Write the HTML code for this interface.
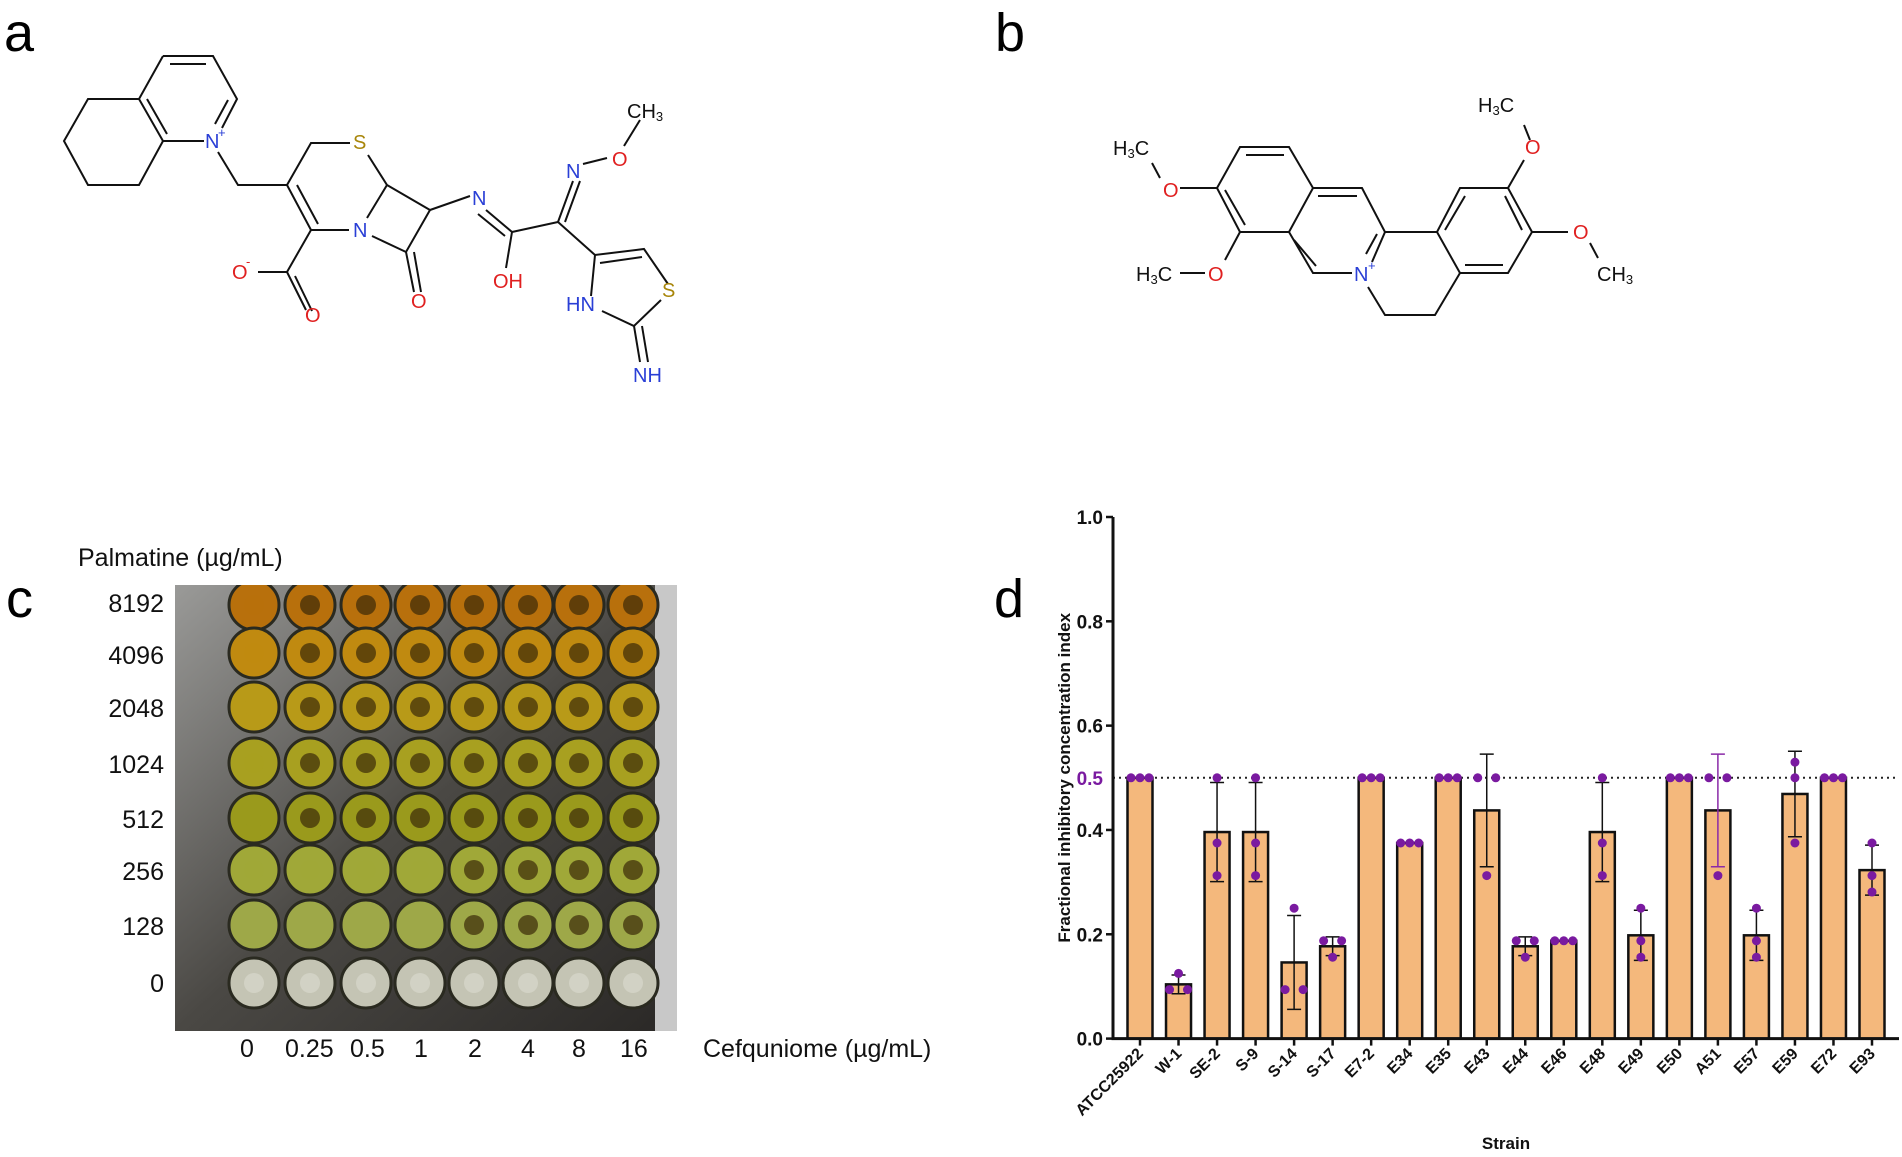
<!DOCTYPE html>
<html><head><meta charset="utf-8">
<style>
html,body{margin:0;padding:0;background:#fff;}
body{width:1902px;height:1157px;position:relative;overflow:hidden;font-family:"Liberation Sans",Arial,sans-serif;}
.pl{position:absolute;font-size:54px;line-height:1;color:#000;}
.t{position:absolute;font-size:25px;color:#111;white-space:nowrap;}
</style></head>
<body>
<div class="pl" style="left:4px;top:6px;">a</div>
<div class="pl" style="left:995px;top:6px;">b</div>
<div class="pl" style="left:6px;top:572px;">c</div>
<div class="pl" style="left:994px;top:572px;">d</div>

<svg width="1902" height="1157" style="position:absolute;left:0;top:0" font-family="Liberation Sans, sans-serif" font-size="19">
<g stroke="#111" stroke-width="2" fill="none">
<path d="M163 56 L213 56 L237 99 L222 128 M204 141 L163 141 L139 99 L163 56"/>
<path d="M170 64 L206 64 M228 100 L215 124 M147 99 L167 134"/>
<path d="M139 99 L88 99 L64 141 L88 185 L139 185 L163 141"/>
<path d="M218 152 L238 185 L287 185 L311 143 L350 143 M368 155 L387 185 L430 210 L406 252 L372 236 M349 230 L311 230 L287 185 M297 185 L318 224"/>
<path d="M387 185 L367 218 M311 230 L287 272 L258 272 M287 272 L306 310 M295 276 L312 311 M406 252 L414 292 M414 252 L421 292"/>
<path d="M430 210 L470 196 M486 210 L512 232 M478 214 L505 236 M512 232 L506 268 M512 232 L558 222 L573 181 M565 222 L580 181 M583 164 L607 158 M624 146 L640 120"/>
<path d="M558 222 L595 255 L644 249 L668 284 M600 263 L642 257 M661 300 L634 326 L602 311 M591 296 L595 255 M634 326 L640 362 M642 326 L648 362"/>
</g>
<g font-size="20">
<text x="205" y="148" fill="#2a3fd6">N</text><text x="218" y="137" fill="#2a3fd6" font-size="13">+</text>
<text x="353" y="149" fill="#a8860a">S</text>
<text x="353" y="237" fill="#2a3fd6">N</text>
<text x="232" y="279" fill="#e02020">O</text><text x="246" y="266" fill="#e02020" font-size="13">-</text>
<text x="305" y="322" fill="#e02020">O</text>
<text x="411" y="308" fill="#e02020">O</text>
<text x="472" y="205" fill="#2a3fd6">N</text>
<text x="493" y="288" fill="#e02020">OH</text>
<text x="566" y="178" fill="#2a3fd6">N</text>
<text x="612" y="166" fill="#e02020">O</text>
<text x="627" y="118" fill="#111">CH<tspan font-size="13" dy="3">3</tspan></text>
<text x="662" y="297" fill="#a8860a">S</text>
<text x="566" y="311" fill="#2a3fd6">HN</text>
<text x="633" y="382" fill="#2a3fd6">NH</text>
</g>
</svg>

<svg width="1902" height="1157" style="position:absolute;left:0;top:0" font-family="Liberation Sans, sans-serif">
<g stroke="#111" stroke-width="2" fill="none">
<path d="M1240 147 L1289 147 L1313 188 L1289 232 L1240 232 L1217 188 Z"/>
<path d="M1246 155 L1284 155 M1225 190 L1245 225"/>
<path d="M1313 188 L1362 188 L1385 232 L1372 262 M1352 273 L1313 273 L1289 232 M1318 196 L1357 196 M1294 240 L1316 266 M1377 234 L1366 254"/>
<path d="M1385 232 L1437 232 L1460 188 L1508 188 L1532 232 L1508 273 L1460 273 L1437 232 M1465 196 L1445 230 M1505 196 L1522 230 M1465 265 L1503 265"/>
<path d="M1368 287 L1385 315 L1435 315 L1460 273"/>
<path d="M1217 188 L1180 188 M1160 178 L1152 163 M1240 232 L1225 260 M1205 273 L1180 273 M1508 188 L1524 160 M1530 140 L1524 125 M1532 232 L1568 232 M1590 243 L1598 258"/>
</g>
<g font-size="20">
<text x="1163" y="197" fill="#e02020">O</text>
<text x="1113" y="155" fill="#111">H<tspan font-size="13" dy="3">3</tspan><tspan dy="-3">C</tspan></text>
<text x="1208" y="281" fill="#e02020">O</text>
<text x="1136" y="281" fill="#111">H<tspan font-size="13" dy="3">3</tspan><tspan dy="-3">C</tspan></text>
<text x="1354" y="281" fill="#2a3fd6">N</text><text x="1368" y="270" fill="#2a3fd6" font-size="13">+</text>
<text x="1525" y="154" fill="#e02020">O</text>
<text x="1478" y="112" fill="#111">H<tspan font-size="13" dy="3">3</tspan><tspan dy="-3">C</tspan></text>
<text x="1573" y="239" fill="#e02020">O</text>
<text x="1597" y="281" fill="#111">CH<tspan font-size="13" dy="3">3</tspan></text>
</g>
</svg>

<!-- Panel c -->
<div class="t" style="left:78px;top:544px;">Palmatine (µg/mL)</div>
<div>
<div class="t" style="right:1738px;top:590px;">8192</div>
<div class="t" style="right:1738px;top:642px;">4096</div>
<div class="t" style="right:1738px;top:695px;">2048</div>
<div class="t" style="right:1738px;top:751px;">1024</div>
<div class="t" style="right:1738px;top:806px;">512</div>
<div class="t" style="right:1738px;top:858px;">256</div>
<div class="t" style="right:1738px;top:913px;">128</div>
<div class="t" style="right:1738px;top:970px;">0</div>
</div>
<svg id="plate" width="502" height="446" style="position:absolute;left:175px;top:585px;">
<defs>
<linearGradient id="pbg" x1="0" y1="0" x2="1" y2="1"><stop offset="0" stop-color="#9a9a98"/><stop offset="0.5" stop-color="#4a4844"/><stop offset="1" stop-color="#2a2826"/></linearGradient>
</defs>
<rect width="502" height="446" fill="url(#pbg)"/>
<rect x="480" y="0" width="22" height="446" fill="#c8c8c8"/>
</svg>
<div>
<div class="t" style="left:240px;top:1035px;">0</div>
<div class="t" style="left:285px;top:1035px;">0.25</div>
<div class="t" style="left:350px;top:1035px;">0.5</div>
<div class="t" style="left:414px;top:1035px;">1</div>
<div class="t" style="left:468px;top:1035px;">2</div>
<div class="t" style="left:521px;top:1035px;">4</div>
<div class="t" style="left:572px;top:1035px;">8</div>
<div class="t" style="left:620px;top:1035px;">16</div>
</div>
<div class="t" style="left:703px;top:1035px;">Cefquniome (µg/mL)</div>

<!-- Panel d -->
<svg id="chart" width="1902" height="1157" style="position:absolute;left:0;top:0" font-family="Liberation Sans, sans-serif"></svg>

<script>
// plate
const rowColors = ['#b8700c','#c08a10','#b89a18','#a8a020','#9a9a1c','#a0a838','#9ea848','#c4c4b4'];
const rowCenters = [605,653,707,763,818,870,925,983];
const colCenters = [254,310,366,420,474,528,579,633];
const NS='http://www.w3.org/2000/svg';
const plate=document.getElementById('plate');
rowCenters.forEach((cy,ri)=>{
  colCenters.forEach((cx,ci)=>{
    const c=document.createElementNS(NS,'circle');
    
    
    c.setAttribute('cx',cx-175);c.setAttribute('cy',cy-585);c.setAttribute('r',25);
    c.setAttribute('fill',rowColors[ri]);c.setAttribute('stroke','#2a2a20');c.setAttribute('stroke-width','3');
    plate.appendChild(c);
    const d=document.createElementNS(NS,'circle');
    
    
    d.setAttribute('cx',cx-175);d.setAttribute('cy',cy-585);d.setAttribute('r',10);
    const dark = ri<5 ? (ci>0) : (ri<7 ? ci>=4 : false);
    d.setAttribute('fill', dark ? '#3a2a08' : (ri==7?'#d8d8cc':rowColors[ri]));
    d.setAttribute('opacity','0.7');
    plate.appendChild(d);
  });
});

// chart data
const strains=['ATCC25922','W-1','SE-2','S-9','S-14','S-17','E7-2','E34','E35','E43','E44','E46','E48','E49','E50','A51','E57','E59','E72','E93'];
const means=[0.5,0.104,0.396,0.396,0.146,0.177,0.5,0.375,0.5,0.4375,0.177,0.1875,0.396,0.198,0.5,0.4375,0.198,0.469,0.5,0.323];
const sds=[0,0.018,0.095,0.095,0.09,0.018,0,0,0,0.108,0.018,0,0.095,0.048,0,0.108,0.048,0.082,0,0.048];
const rep1=[0.5,0.125,0.5,0.5,0.25,0.1875,0.5,0.375,0.5,0.5,0.1875,0.1875,0.5,0.25,0.5,0.5,0.25,0.53,0.5,0.375];
const rep2=[0.5,0.094,0.375,0.375,0.094,0.1875,0.5,0.375,0.5,0.5,0.156,0.1875,0.375,0.1875,0.5,0.5,0.1875,0.5,0.5,0.3125];
const rep3=[0.5,0.094,0.3125,0.3125,0.094,0.156,0.5,0.375,0.5,0.3125,0.1875,0.1875,0.3125,0.156,0.5,0.3125,0.156,0.375,0.5,0.281];
const yTicks=[0,0.2,0.4,0.6,0.8,1.0];
const yTickLabels=['0.0','0.2','0.4','0.6','0.8','1.0'];
const refValue=0.5;

const svg=document.getElementById('chart');
const X0=1113, X1=1899, Y0=1038.6, YH=521.6;
const y=v=>Y0-YH*v;
const x=i=>1140+i*(1872-1140)/(strains.length-1);
const BW=25;
function el(tag,attrs){const e=document.createElementNS(NS,tag);for(const k in attrs)e.setAttribute(k,attrs[k]);svg.appendChild(e);return e;}

strains.forEach((s,i)=>{
  const b=el('rect',{x:x(i)-BW/2,y:y(means[i]),width:BW,height:Y0-y(means[i]),fill:'#f4b87c',stroke:'#111','stroke-width':2.5});
  
  
});
const rl=el('line',{x1:X0,x2:X1,y1:y(refValue),y2:y(refValue),stroke:'#222','stroke-width':2,'stroke-dasharray':'2,4'});


strains.forEach((s,i)=>{
  if(!sds[i])return;
  const col = s==='A51' ? '#8a2aa8' : '#111';
  const lo=y(means[i]-sds[i]), hi=y(means[i]+sds[i]);
  const g=el('path',{d:`M${x(i)} ${hi} L${x(i)} ${lo} M${x(i)-7} ${hi} L${x(i)+7} ${hi} M${x(i)-7} ${lo} L${x(i)+7} ${lo}`,stroke:col,'stroke-width':1.5,fill:'none'});
  
  
});
strains.forEach((s,i)=>{
  const reps=[rep1[i],rep2[i],rep3[i]];
  const cnt={};reps.forEach(v=>cnt[v]=(cnt[v]||0)+1);
  const seen={};
  reps.forEach(v=>{
    let off=0;
    if(cnt[v]===3){off=[-9,0,9][seen[v]||0];}
    else if(cnt[v]===2){off=[-9,9][seen[v]||0];}
    seen[v]=(seen[v]||0)+1;
    const p=el('circle',{cx:x(i)+off,cy:y(v),r:4.5,fill:'#7a1aa0'});
    
    
  });
});
const ax=el('path',{d:`M${X0} ${y(1.0)} L${X0} ${Y0} L${X1} ${Y0}`,stroke:'#111','stroke-width':3,fill:'none'});


yTicks.forEach((v,k)=>{
  const t=el('line',{x1:X0-7,x2:X0,y1:y(v),y2:y(v),stroke:'#111','stroke-width':2.5});
  
  
  const tx=el('text',{x:X0-10,y:y(v)+7,'text-anchor':'end','font-size':19,'font-weight':'bold',fill:'#111'});
  
  
  tx.textContent=yTickLabels[k];
});
const rt=el('text',{x:X0-10,y:y(refValue)+7,'text-anchor':'end','font-size':19,'font-weight':'bold',fill:'#7a1aa0'});


rt.textContent='0.5';
strains.forEach((s,i)=>{
  const tk=el('line',{x1:x(i),x2:x(i),y1:Y0,y2:Y0+7,stroke:'#111','stroke-width':2.5});
  
  
  const tx=el('text',{x:x(i)+4,y:Y0+16,'text-anchor':'end','font-size':16,'font-weight':'bold',fill:'#111',transform:`rotate(-45 ${x(i)+4} ${Y0+16})`});
  
  
  tx.textContent=s;
});
const yl=el('text',{x:0,y:0,'text-anchor':'middle','font-size':17,'font-weight':'bold',fill:'#111',transform:`translate(1070 ${y(0.5)+0}) rotate(-90)`});


yl.textContent='Fractional inhibitory concentration index';
const xl=el('text',{x:1506,y:1149,'text-anchor':'middle','font-size':17,'font-weight':'bold',fill:'#111'});


xl.textContent='Strain';
</script>
</body></html>
